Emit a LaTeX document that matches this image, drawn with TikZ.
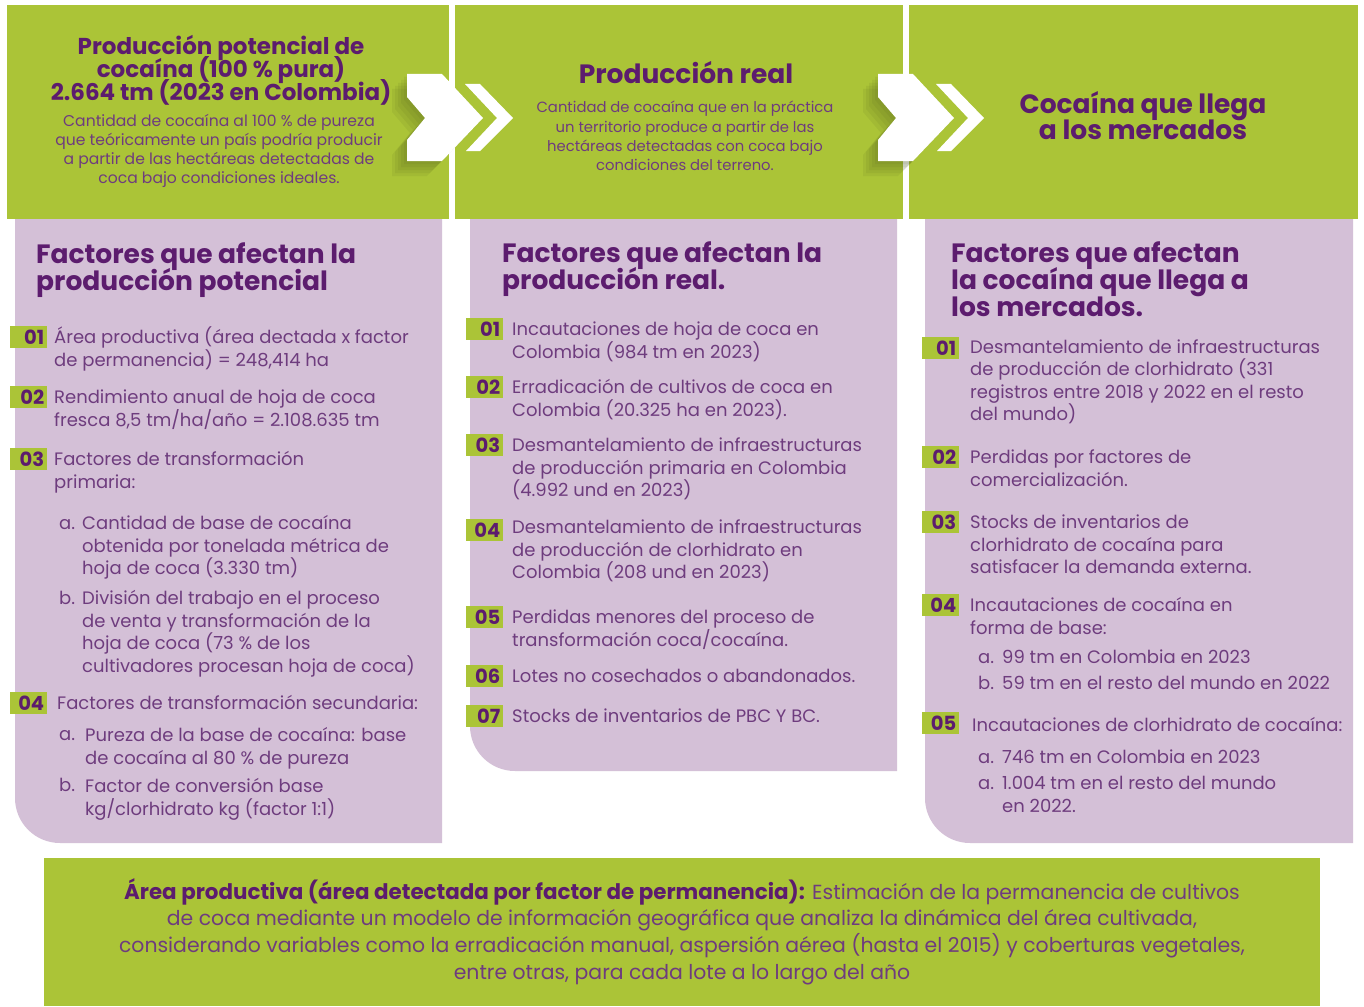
\documentclass[tikz,border=0pt]{standalone}
\usepackage{fontspec}
\setmainfont{Poppins}
\definecolor{lgreen}{HTML}{ABC437}
\definecolor{lpurple}{HTML}{D4C0D7}
\definecolor{tpurple}{HTML}{5C1C6E}
\definecolor{bpurple}{HTML}{6E3C7E}
\tikzset{
  gbox/.style={fill=lgreen},
  ppanel/.style={fill=lpurple},
  chev/.style={fill=white},
  chevshadow/.style={fill=black!60!lgreen, opacity=0.08},
  itemtxt/.style={anchor=base west, inner sep=0pt, text=bpurple, font=\fontsize{18}{22}\selectfont},
  subtxt/.style={itemtxt},
  headtxt/.style={anchor=base west, inner sep=0pt, text=tpurple, font=\bfseries\fontsize{26.5}{28}\selectfont},
  ttitle/.style={anchor=base, inner sep=0pt, text=tpurple, font=\bfseries\fontsize{23}{25}\selectfont},
  ttitlebig/.style={anchor=base, inner sep=0pt, text=tpurple, font=\bfseries\fontsize{26.5}{28}\selectfont},
  tdesc/.style={anchor=base, inner sep=0pt, text=bpurple, font=\fontsize{15.6}{18}\selectfont},
  tdesctwo/.style={tdesc, font=\fontsize{14.8}{18}\selectfont},
  bottxt/.style={anchor=base, inner sep=0pt, text=bpurple, font=\fontsize{20.4}{24}\selectfont},
  badge/.style={anchor=west, fill=lgreen, minimum width=37pt, minimum height=22pt, inner xsep=3pt, inner ysep=0pt, text width=31pt, align=right, text=tpurple, font=\bfseries\fontsize{19.5}{20}\selectfont},
}
% style, name, x, first baseline, skip, lines
\newcommand\lns[6]{\foreach \t [count=\i] in {#6}{\node[#1] (#2-\i) at (#3,{#4+(\i-1)*#5}) {\t};}}
\newcommand\chevrons[1]{%
  \begin{scope}[shift={(#1,0)}]
    \foreach \d in {3,6,9,12,15}{
      \fill[chevshadow] (407-\d,74+\d) -- (442-\d,74+\d) -- (483-\d,118+\d) -- (442-\d,161+\d) -- (407-\d,161+\d) -- (407-\d,140+\d) -- (425-\d,118+\d) -- (407-\d,97+\d) -- cycle;
    }
    \fill[chev] (407,74) -- (442,74) -- (483,118) -- (442,161) -- (407,161) -- (407,140) -- (425,118) -- (407,97) -- cycle;
    \fill[chev] (465,84) -- (480,84) -- (513,118) -- (480,151) -- (466,151) -- (497,118) -- cycle;
  \end{scope}}
\begin{document}
\begin{tikzpicture}[x=1pt,y=-1pt]
\useasboundingbox[fill=white] (0,0) rectangle (1364,1006);
% top boxes
\fill[gbox] (7,5) rectangle (449,219);
\fill[gbox] (455,5) rectangle (903,219);
\fill[gbox] (909,5) rectangle (1358,219);
% panels
\fill[ppanel] (15,219) -- (442,219) -- (442,843) -- (60,843) .. controls (35.1,843) and (15,822.9) .. (15,798) -- cycle;
\fill[ppanel] (470,219) -- (897,219) -- (897,771) -- (515,771) .. controls (490.1,771) and (470,750.9) .. (470,726) -- cycle;
\fill[ppanel] (925,219) -- (1353,219) -- (1353,843) -- (970,843) .. controls (945.1,843) and (925,822.9) .. (925,798) -- cycle;
% bottom box
\fill[gbox] (44,858) rectangle (1320,1006);
% arrows
\chevrons{0}
\chevrons{471}
% top box texts
\lns{ttitle}{t1}{221}{55}{23}{{Producción potencial de},{cocaína (100 \% pura)},{2.664 tm (2023 en Colombia)}}
\lns{tdesc}{d1}{219}{126.5}{19}{{Cantidad de cocaína al 100 \% de pureza},{que teóricamente un país podría producir},{a partir de las hectáreas detectadas de},{coca bajo condiciones ideales.}}
\lns{ttitlebig}{t2}{686}{83.5}{26}{{Producción real}}
\lns{tdesctwo}{d2}{685}{113}{19}{{Cantidad de cocaína que en la práctica},{un territorio produce a partir de las},{hectáreas detectadas con coca bajo},{condiciones del terreno.}}
\lns{ttitlebig}{t3}{1143}{113.5}{26}{{Cocaína que llega},{a los mercados}}
% panel headings
\lns{headtxt}{h1}{36}{263}{27}{{Factores que afectan la},{producción potencial}}
\lns{headtxt}{h2}{502}{262}{27}{{Factores que afectan la},{producción real.}}
\lns{headtxt}{h3}{951}{262}{27}{{Factores que afectan},{la cocaína que llega a},{los mercados.}}
% panel 1 items
\node[badge] (p1b1) at (10,337) {01};
\lns{itemtxt}{p1i1}{54}{343.5}{22.5}{{Área productiva (área dectada x factor},{de permanencia) = 248,414 ha}}
\node[badge] (p1b2) at (10,397) {02};
\lns{itemtxt}{p1i2}{54}{403.5}{22.5}{{Rendimiento anual de hoja de coca},{fresca 8,5 tm/ha/año = 2.108.635 tm}}
\node[badge] (p1b3) at (10,459) {03};
\lns{itemtxt}{p1i3}{54}{465.5}{22.5}{{Factores de transformación},{primaria:}}
\lns{subtxt}{p1i3a}{59}{529.5}{22.5}{{a.}}
\lns{itemtxt}{p1i3at}{82}{529.5}{22.5}{{Cantidad de base de cocaína},{obtenida por tonelada métrica de},{hoja de coca (3.330 tm)}}
\lns{subtxt}{p1i3b}{59}{604.5}{22.5}{{b.}}
\lns{itemtxt}{p1i3bt}{82}{604.5}{22.5}{{División del trabajo en el proceso},{de venta y transformación de la},{hoja de coca (73 \% de los},{cultivadores procesan hoja de coca)}}
\node[badge] (p1b4) at (10,703) {04};
\lns{itemtxt}{p1i4}{57}{709.5}{22.5}{{Factores de transformación secundaria:}}
\lns{subtxt}{p1i4a}{59}{740.5}{22.5}{{a.}}
\lns{itemtxt}{p1i4at}{85}{741.5}{22.5}{{Pureza de la base de cocaína: base},{de cocaína al 80 \% de pureza}}
\lns{subtxt}{p1i4b}{59}{791.5}{22.5}{{b.}}
\lns{itemtxt}{p1i4bt}{85}{792.5}{22.5}{{Factor de conversión base},{kg/clorhidrato kg (factor 1:1)}}
% panel 2 items
\node[badge] (p2b1) at (466,329) {01};
\lns{itemtxt}{p2i1}{512}{335.5}{22.5}{{Incautaciones de hoja de coca en},{Colombia (984 tm en 2023)}}
\node[badge] (p2b2) at (466,387) {02};
\lns{itemtxt}{p2i2}{512}{393.5}{22.5}{{Erradicación de cultivos de coca en},{Colombia (20.325 ha en 2023).}}
\node[badge] (p2b3) at (466,445) {03};
\lns{itemtxt}{p2i3}{512}{451.5}{22.5}{{Desmantelamiento de infraestructuras},{de producción primaria en Colombia},{(4.992 und en 2023)}}
\node[badge] (p2b4) at (466,530) {04};
\lns{itemtxt}{p2i4}{512}{533.5}{22.5}{{Desmantelamiento de infraestructuras},{de producción de clorhidrato en},{Colombia (208 und en 2023)}}
\node[badge] (p2b5) at (466,617) {05};
\lns{itemtxt}{p2i5}{512}{623.5}{22.5}{{Perdidas menores del proceso de},{transformación coca/cocaína.}}
\node[badge] (p2b6) at (466,676) {06};
\lns{itemtxt}{p2i6}{512}{682.5}{22.5}{{Lotes no cosechados o abandonados.}}
\node[badge] (p2b7) at (466,716) {07};
\lns{itemtxt}{p2i7}{512}{722.5}{22.5}{{Stocks de inventarios de PBC Y BC.}}
% panel 3 items
\node[badge] (p3b1) at (922,348) {01};
\lns{itemtxt}{p3i1}{970}{353.5}{22.4}{{Desmantelamiento de infraestructuras},{de producción de clorhidrato (331},{registros entre 2018 y 2022 en el resto},{del mundo)}}
\node[badge] (p3b2) at (922,457) {02};
\lns{itemtxt}{p3i2}{970}{463.5}{22.5}{{Perdidas por factores de},{comercialización.}}
\node[badge] (p3b3) at (922,522) {03};
\lns{itemtxt}{p3i3}{970}{528.5}{22.5}{{Stocks de inventarios de},{clorhidrato de cocaína para},{satisfacer la demanda externa.}}
\node[badge] (p3b4) at (922,605) {04};
\lns{itemtxt}{p3i4}{970}{611.5}{22.5}{{Incautaciones de cocaína en},{forma de base:}}
\lns{subtxt}{p3i4a}{978}{663.5}{22.5}{{a.}}
\lns{itemtxt}{p3i4at}{1002}{663.5}{22.5}{{99 tm en Colombia en 2023}}
\lns{subtxt}{p3i4b}{978}{689.5}{22.5}{{b.}}
\lns{itemtxt}{p3i4bt}{1002}{689.5}{22.5}{{59 tm en el resto del mundo en 2022}}
\node[badge] (p3b5) at (922,723) {05};
\lns{itemtxt}{p3i5}{972}{731.5}{22.5}{{Incautaciones de clorhidrato de cocaína:}}
\lns{subtxt}{p3i5a}{978}{763.5}{22.5}{{a.}}
\lns{itemtxt}{p3i5at}{1002}{763.5}{22.5}{{746 tm en Colombia en 2023}}
\lns{subtxt}{p3i5b}{978}{789.5}{22.5}{{a.}}
\lns{itemtxt}{p3i5bt}{1002}{789.5}{22.5}{{1.004 tm en el resto del mundo},{en 2022.}}
% bottom text
\lns{bottxt}{bt}{682}{899}{26.8}{{{\bfseries\color{tpurple}\fontsize{21.4}{24}\selectfont Área productiva (área detectada por factor de permanencia):} Estimación de la permanencia de cultivos},{de coca mediante un modelo de información geográfica que analiza la dinámica del área cultivada,},{considerando variables como la erradicación manual, aspersión aérea (hasta el 2015) y coberturas vegetales,},{entre otras, para cada lote a lo largo del año}}
\end{tikzpicture}
\end{document}
